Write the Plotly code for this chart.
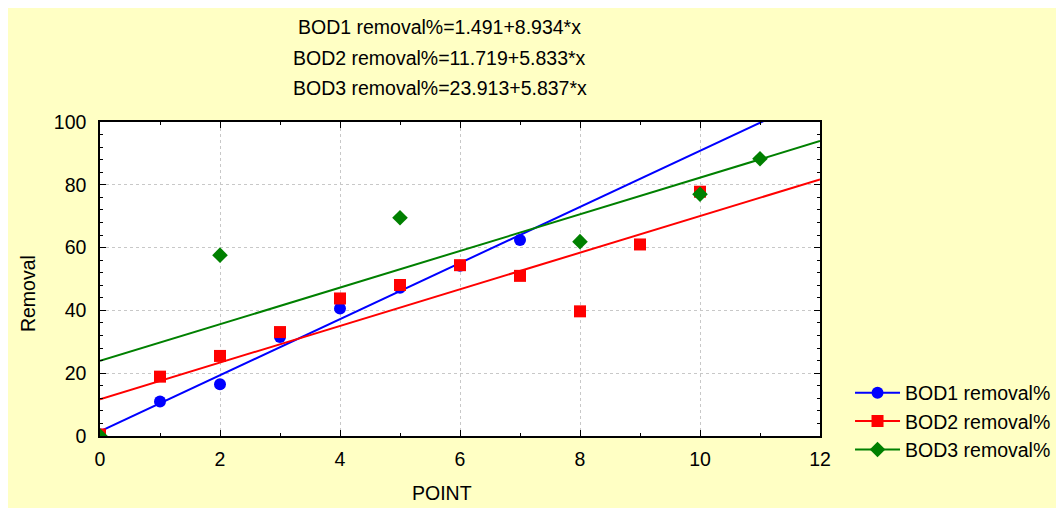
import numpy as np
import plotly.graph_objects as go

# ---- data ----
bod1_x = [0, 1, 2, 3, 4, 5, 6, 7]
bod1_y = [0.5, 11.0, 16.5, 31.5, 40.6, 47.2, 54.2, 62.4]

bod2_x = [0, 1, 2, 3, 4, 5, 6, 7, 8, 9, 10]
bod2_y = [0.5, 18.9, 25.5, 33.1, 43.8, 48.1, 54.4, 51.0, 39.7, 61.0, 77.8]

bod3_x = [0, 2, 5, 8, 10, 11]
bod3_y = [0.0, 57.6, 69.5, 61.9, 77.0, 88.3]

series_names = ["BOD1 removal%", "BOD2 removal%", "BOD3 removal%"]
intercepts = [1.491, 11.719, 23.913]
slopes = [8.934, 5.833, 5.837]
equation_labels = [
    "BOD1 removal%=1.491+8.934*x",
    "BOD2 removal%=11.719+5.833*x",
    "BOD3 removal%=23.913+5.837*x",
]

x_range = [0, 12]
y_range = [0, 100]
x_ticks = [0, 2, 4, 6, 8, 10, 12]
y_ticks = [0, 20, 40, 60, 80, 100]

# ---- styles ----
colors = ["#0000FF", "#FF0000", "#008000"]
symbols = ["circle", "square", "diamond"]
sizes = [12, 12, 12]
FONT = "Liberation Sans, Arial, sans-serif"
FS = 19.5
BG = "#FFFFC4"

fig = go.Figure()

xs = [bod1_x, bod2_x, bod3_x]
ys = [bod1_y, bod2_y, bod3_y]
x_fit = np.array(x_range, dtype=float)

# fit lines
for i in range(3):
    fig.add_trace(go.Scatter(
        x=x_fit, y=intercepts[i] + slopes[i] * x_fit, mode="lines",
        line=dict(color=colors[i], width=2), showlegend=False, hoverinfo="skip"))

# markers
for i in range(3):
    fig.add_trace(go.Scatter(
        x=xs[i], y=ys[i], mode="markers",
        marker=dict(symbol=symbols[i], size=sizes[i], color=colors[i], line=dict(width=0)),
        showlegend=False, name=series_names[i]))

# legend-only entries (line + marker)
for i in range(3):
    fig.add_trace(go.Scatter(
        x=[None], y=[None], mode="lines+markers", name=series_names[i],
        line=dict(color=colors[i], width=2),
        marker=dict(symbol=symbols[i], size=sizes[i], color=colors[i])))

axis_common = dict(
    showline=True, linecolor="black", linewidth=1.5, mirror="ticks",
    ticks="inside", ticklen=6, tickwidth=1, tickcolor="black",
    showgrid=True, gridcolor="#C8C8C8", griddash="dot", gridwidth=1,
    zeroline=False, tickfont=dict(family=FONT, size=FS, color="black"),
)

fig.update_xaxes(range=x_range, tickvals=x_ticks, ticklabelstandoff=5,
                 minor=dict(dtick=1, ticks="inside", ticklen=3, tickcolor="black", showgrid=False),
                 **axis_common)
fig.update_yaxes(range=y_range, tickvals=y_ticks, ticklabelstandoff=8,
                 minor=dict(dtick=4, ticks="inside", ticklen=3, tickcolor="black", showgrid=False),
                 **axis_common)

annotations = []
title_y = [1.3025, 1.2038, 1.1083]
for lbl, yy in zip(equation_labels, title_y):
    annotations.append(dict(text=lbl, xref="paper", yref="paper", x=0.472, y=yy,
                            xanchor="center", yanchor="middle", showarrow=False,
                            font=dict(family=FONT, size=FS, color="black")))
annotations.append(dict(text="POINT", xref="paper", yref="paper", x=0.475, y=-0.18,
                        xanchor="center", yanchor="middle", showarrow=False,
                        font=dict(family=FONT, size=FS, color="black")))
annotations.append(dict(text="Removal", xref="paper", yref="paper", x=-0.1000, y=0.452,
                        xanchor="center", yanchor="middle", showarrow=False, textangle=-90,
                        font=dict(family=FONT, size=FS, color="black")))

fig.update_layout(
    width=1056, height=500,
    margin=dict(l=92, r=244, t=114, b=72, autoexpand=False),
    paper_bgcolor=BG, plot_bgcolor="white",
    annotations=annotations,
    legend=dict(x=1.0417, y=-0.107, xanchor="left", yanchor="bottom", bgcolor="rgba(0,0,0,0)",
                font=dict(family=FONT, size=FS, color="black"), tracegroupgap=0,
                itemwidth=45),
    showlegend=True,
)

fig.write_html("out.html")
